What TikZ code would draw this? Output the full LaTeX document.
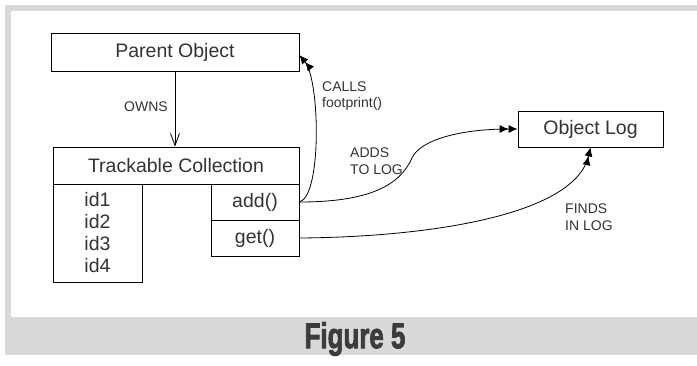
\documentclass[tikz,border=0pt]{standalone}
\usepackage{fontspec}
\setmainfont{Liberation Sans}
\newfontfamily\captionfont{Liberation Sans}[BoldFeatures={FakeBold=2.5}]
\usetikzlibrary{arrows.meta,calc}
\definecolor{framegray}{HTML}{D9D9D9}
\definecolor{inkgray}{HTML}{333333}
\definecolor{titlegray}{HTML}{3C3C3C}
\begin{document}
\begin{tikzpicture}[x=1pt,y=-1pt,
  box/.style={draw=black,line width=0.8pt,rectangle,inner sep=0pt,text=inkgray,
    font=\fontsize{19.5}{22}\selectfont},
  lbl/.style={inner sep=0pt,anchor=west,align=left,text=inkgray,
    font=\fontsize{14}{16.5}\selectfont},
  link/.style={draw=black,line width=0.8pt},
  dblhead/.style={-{Latex[length=9pt,width=8pt]Latex[length=9pt,width=8pt]}},
  barbhead/.style={-{Straight Barb[length=12pt,width=9pt]}}
]
\useasboundingbox (0,0) rectangle (697,365);
% page frame and caption band
\fill[framegray] (5,5) rectangle (697,355);
\fill[white] (11,11) rectangle (697,317);

% classes
\node[box,minimum width=248pt,minimum height=38pt] (parent) at (175,52) {Parent Object};
\node[box,minimum width=246pt,minimum height=37pt] (coll) at (176,165.5) {Trackable Collection};
\node[box,minimum width=89pt,minimum height=98pt,align=center] (ids) at (97.5,233) {id1\\id2\\id3\\id4};
\node[box,minimum width=88pt,minimum height=36pt] (add) at (255,202) {add()};
\node[box,minimum width=88pt,minimum height=36pt] (get) at (255,238) {get()};
\node[box,minimum width=145pt,minimum height=36pt] (log) at (590.5,129) {Object Log};

% ownership
\draw[link,barbhead] (parent.south) -- (parent.south |- coll.north);
\node[lbl,anchor=center] (owns) at (146,107) {OWNS};

% add() calls back into the parent
\coordinate (pin) at ($(parent.east)+(0,3)$);
\draw[link,dblhead] (add.east) .. controls (322,196) and (320,80) .. (pin);
\node[lbl] (calls) at (322,96) {CALLS\\footprint()};

% add() writes to the log
\coordinate (bend) at (412,158);
\draw[link,dblhead] (add.east) .. controls (370,202) and (400,185) .. (bend)
  .. controls (420,140) and (460,129) .. (log.west);
\node[lbl] (adds) at (350,161) {ADDS\\TO LOG};

% get() reads from the log
\draw[link,dblhead] (get.east) .. controls (430,237) and (575,215) .. (log.south);
\node[lbl] (finds) at (565,217) {FINDS\\IN LOG};

% caption
\node[font=\captionfont\fontsize{36}{36}\bfseries\selectfont,text=titlegray,xscale=0.72,inner sep=0pt] (title) at (355,339) {Figure 5};
\end{tikzpicture}
\end{document}
